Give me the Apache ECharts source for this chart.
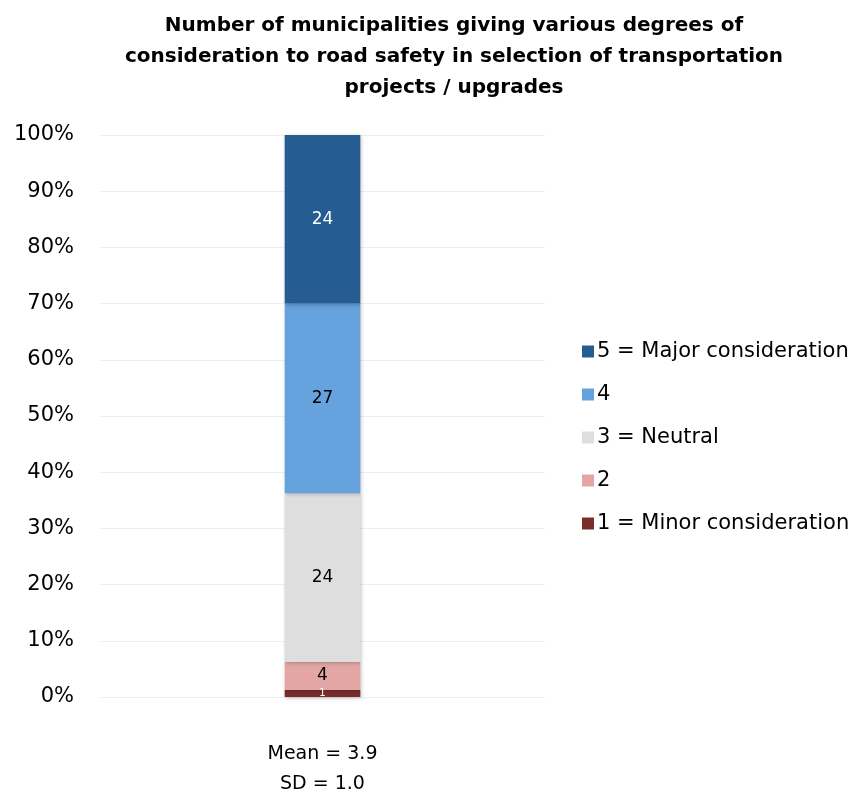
<!DOCTYPE html>
<html>
<head>
<meta charset="utf-8">
<script src="https://cdn.jsdelivr.net/npm/echarts@6/dist/echarts.min.js"></script>
<style>
  html, body { margin: 0; padding: 0; background: #fff; }
  #chart { width: 853px; height: 800px; }
</style>
</head>
<body>
<div id="chart"></div>
<script>
// Survey response counts, rating 1 (minor) to 5 (major)
const categories = ['Mean = 3.9\nSD = 1.0'];
const seriesNames = ['1 = Minor consideration', '2', '3 = Neutral', '4', '5 = Major consideration'];
const counts1 = [1];
const counts2 = [4];
const counts3 = [24];
const counts4 = [27];
const counts5 = [24];
const yTicks = ['0%', '10%', '20%', '30%', '40%', '50%', '60%', '70%', '80%', '90%', '100%'];

const colors = ['#7B2D2B', '#E3A6A5', '#DEDEDE', '#66A3DE', '#255D92'];
const labelColors = ['#ffffff', '#000000', '#000000', '#000000', '#ffffff'];
const allCounts = [counts1, counts2, counts3, counts4, counts5];
const totals = categories.map((_, i) => allCounts.reduce((s, c) => s + c[i], 0));

const font = '"DejaVu Sans", sans-serif';

const series = allCounts.map((arr, k) => ({
  name: seriesNames[k],
  type: 'bar',
  stack: 'all',
  barWidth: '17%',
  data: arr.map((v, i) => ({ value: v / totals[i] * 100, count: v })),
  itemStyle: {
    color: colors[k],
    shadowColor: 'rgba(0,0,0,0.25)',
    shadowBlur: 4,
    shadowOffsetX: 1,
    shadowOffsetY: 1
  },
  label: {
    show: true,
    position: 'inside',
    color: labelColors[k],
    fontFamily: font,
    fontSize: k === 0 ? 10 : 17,
    formatter: p => String(p.data.count)
  }
}));

const chart = echarts.init(document.getElementById('chart'));
chart.setOption({
  animation: false,
  title: {
    text: 'Number of municipalities giving various degrees of\nconsideration to road safety in selection of transportation\nprojects / upgrades',
    left: 449,
    top: 5,
    textAlign: 'center',
    textStyle: {
      fontFamily: font,
      fontWeight: 'bold',
      fontSize: 20,
      lineHeight: 31,
      color: '#000'
    }
  },
  legend: {
    orient: 'vertical',
    left: 577,
    top: 336,
    itemWidth: 12,
    itemHeight: 12,
    itemGap: 22,
    icon: 'rect',
    data: seriesNames.slice().reverse(),
    textStyle: { fontFamily: font, fontSize: 21, color: '#000', padding: [0, 0, 0, -2] }
  },
  grid: { left: 100, right: 308, top: 135, bottom: 103, containLabel: false },
  xAxis: {
    type: 'category',
    data: categories,
    axisLine: { show: false },
    axisTick: { show: false },
    axisLabel: {
      fontFamily: font,
      fontSize: 19,
      color: '#000',
      lineHeight: 30,
      margin: 42
    }
  },
  yAxis: {
    type: 'value',
    min: 0,
    max: 100,
    interval: 10,
    axisLine: { show: false },
    axisTick: { show: false },
    splitLine: { lineStyle: { color: '#EEEEEE', width: 1 } },
    axisLabel: {
      fontFamily: font,
      fontSize: 21,
      color: '#000',
      margin: 26,
      formatter: v => yTicks[Math.round(v / 10)]
    }
  },
  series: series
});
</script>
</body>
</html>
